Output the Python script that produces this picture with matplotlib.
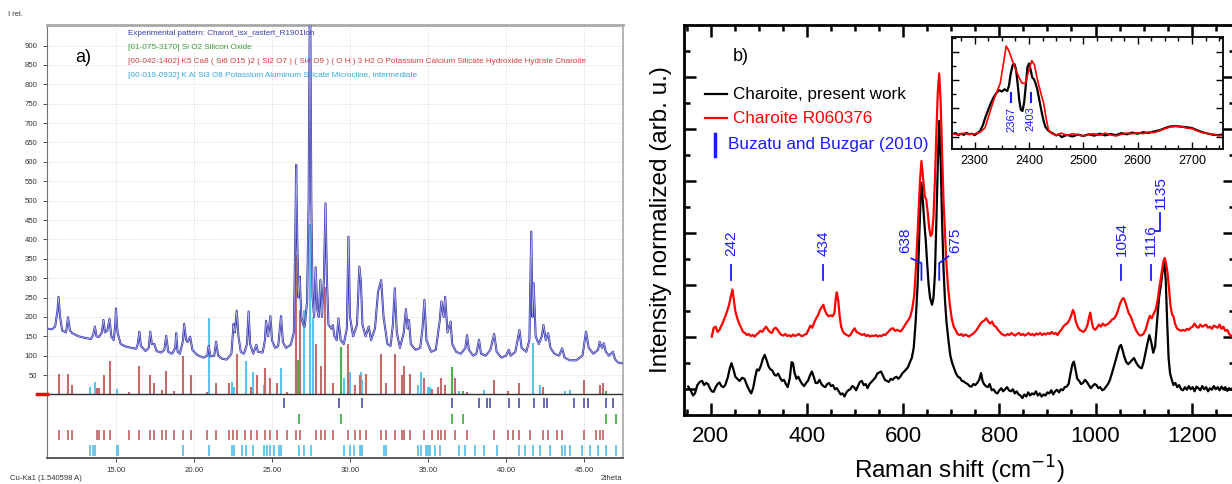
import matplotlib
matplotlib.use("Agg")
import matplotlib.pyplot as plt
import matplotlib.transforms as mtransforms
from matplotlib.ticker import MultipleLocator

plt.rcParams['font.family'] = ['Liberation Sans', 'DejaVu Sans']

# ---------------- a) XRD pattern ----------------
xrd_2theta = [10.5, 10.9, 11.1, 11.25, 11.32, 11.42, 11.55, 11.8, 11.93, 12.05, 12.2, 12.6, 13.0, 13.4,
              13.55, 13.65, 13.75, 13.9, 14.1, 14.2, 14.3, 14.45, 14.59, 14.7, 14.85, 14.95, 15.0, 15.1,
              15.3, 15.6, 16.0, 16.3, 16.4, 16.5, 16.6, 16.9, 17.1, 17.2, 17.3, 17.46, 17.6, 17.9, 18.1,
              18.22, 18.35, 18.6, 18.8, 18.86, 18.95, 19.1, 19.3, 19.37, 19.5, 19.6, 19.75, 19.9, 20.2,
              20.6, 20.85, 20.94, 21.05, 21.3, 21.42, 21.55, 21.8, 22.1, 22.4, 22.54, 22.62, 22.74, 22.85,
              23.0, 23.2, 23.4, 23.5, 23.6, 23.8, 24.0, 24.1, 24.4, 24.55, 24.62, 24.75, 24.9, 25.0, 25.2,
              25.4, 25.58, 25.7, 25.9, 26.2, 26.4, 26.5, 26.55, 26.62, 26.7, 26.78, 26.88, 27.0, 27.1,
              27.25, 27.35, 27.44, 27.52, 27.6, 27.7, 27.8, 27.9, 28.0, 28.1, 28.2, 28.33, 28.43, 28.52,
              28.62, 28.8, 28.9, 29.0, 29.15, 29.26, 29.4, 29.6, 29.8, 29.9, 30.0, 30.2, 30.45, 30.6, 30.7,
              30.8, 31.0, 31.2, 31.35, 31.6, 31.8, 32.0, 32.15, 32.4, 32.6, 32.75, 32.87, 33.0, 33.2, 33.45,
              33.58, 33.7, 33.78, 33.9, 34.2, 34.5, 34.65, 34.77, 34.9, 35.2, 35.5, 35.75, 35.86, 36.0,
              36.1, 36.25, 36.45, 36.55, 36.8, 37.1, 37.4, 37.5, 37.62, 37.9, 38.1, 38.27, 38.4, 38.7, 39.0,
              39.24, 39.4, 39.7, 40.0, 40.18, 40.3, 40.6, 40.86, 41.0, 41.3, 41.5, 41.62, 41.7, 41.77, 41.9,
              42.1, 42.3, 42.4, 42.55, 42.7, 42.85, 43.1, 43.4, 43.6, 43.75, 44.1, 44.5, 44.9, 45.13, 45.3,
              45.6, 45.9, 46.0, 46.15, 46.27, 46.4, 46.6, 46.85, 47.0, 47.2, 47.5]
xrd_counts = [170, 168, 175, 215, 252, 200, 165, 160, 199, 165, 158, 150, 146, 143,
              155, 175, 150, 148, 160, 192, 160, 165, 195, 150, 140, 175, 222, 160,
              130, 124, 120, 118, 130, 162, 125, 112, 120, 162, 130, 130, 112, 108, 115,
              151, 110, 105, 120, 158, 110, 105, 140, 182, 140, 135, 149, 115, 102,
              95, 100, 125, 98, 100, 136, 100, 92, 90, 105, 182, 160, 216, 150,
              110, 105, 130, 214, 130, 105, 128, 110, 108, 140, 190, 150, 202, 140, 120,
              125, 202, 135, 120, 128, 160, 420, 592, 400, 250, 304, 200, 180, 175,
              240, 500, 1100, 500, 250, 200, 328, 220, 200, 295, 200, 300, 493, 300,
              180, 170, 179, 150, 140, 196, 140, 130, 170, 407, 200, 150, 180, 330, 290,
              180, 150, 175, 140, 170, 265, 295, 200, 130, 125, 180, 274, 160, 120, 160,
              220, 170, 192, 130, 115, 120, 170, 244, 140, 110, 115, 190, 240, 200,
              252, 160, 188, 130, 110, 105, 120, 153, 115, 100, 105, 141, 105, 100, 115,
              156, 110, 95, 100, 115, 100, 110, 166, 120, 110, 140, 420, 200, 287, 150,
              130, 150, 179, 140, 158, 120, 105, 100, 119, 95, 88, 88, 100, 162, 120,
              105, 115, 136, 120, 132, 110, 100, 110, 90, 82, 80]

charoite_2theta = [11.32, 11.93, 12.21, 13.78, 13.91, 14.21, 14.59, 15.81, 16.50, 17.21, 17.46, 17.97,
                   18.22, 18.73, 19.31, 19.82, 20.81, 21.42, 22.23, 22.74, 23.68, 24.01, 24.57, 24.90,
                   25.33, 25.96, 26.55, 26.78, 27.79, 28.12, 28.43, 28.88, 29.90, 30.33, 30.61, 31.04,
                   31.98, 32.31, 32.87, 33.32, 33.45, 33.83, 34.77, 35.23, 35.61, 35.86, 36.12, 36.70,
                   37.51, 39.24, 40.10, 40.81, 42.39, 45.00, 46.02, 46.23]
charoite_int = [54, 54, 24, 16, 16, 49, 85, 5, 73, 49, 30, 11,
                61, 10, 98, 49, 5, 30, 30, 104, 18, 49, 67, 42,
                30, 5, 360, 218, 129, 73, 278, 30, 129, 24, 49, 54,
                104, 30, 104, 49, 73, 54, 42, 15, 20, 42, 25, 42,
                5, 36, 10, 30, 18, 36, 24, 30]
microcline_2theta = [13.35, 13.65, 15.05, 20.96, 22.41, 22.54, 23.35, 23.76, 24.52, 25.59, 26.73, 27.05,
                     27.44, 27.6, 29.59, 30.02, 30.71, 30.79, 32.31, 34.34, 34.52, 34.97, 35.10, 37.00,
                     38.58, 41.70, 42.21, 43.80, 44.11]
microcline_int = [20, 33, 13, 198, 33, 20, 85, 59, 24, 67, 59, 218,
                  440, 200, 42, 59, 59, 37, 29, 24, 59, 20, 20, 8,
                  12, 132, 24, 10, 12]
quartz_2theta = [26.64, 29.44, 36.57, 37.26, 46.4]
quartz_int = [90, 123, 72, 8, 8]

exp_row = [25.79, 29.31, 30.79, 36.57, 38.27, 38.78, 38.96, 40.18, 40.86, 41.77, 42.45, 42.65,
           44.34, 44.97, 45.23, 46.4, 46.85]
quartz_row = [26.73, 29.44, 36.57, 37.26, 46.4, 47.03]
charoite_row = charoite_2theta + [22.49, 23.25, 40.48, 41.55, 42.7, 43.3, 43.6, 45.75]
microcline_row = [13.35, 13.53, 13.65, 15.05, 15.13, 19.31, 20.96, 22.41, 22.54, 23.05, 23.35, 23.76,
                  24.52, 24.70, 24.90, 25.13, 25.46, 25.59, 26.73, 27.03, 27.49, 29.59, 30.02, 30.28,
                  30.61, 30.71, 30.79, 32.18, 32.31, 34.34, 34.52, 34.85, 34.97, 35.10, 35.48, 35.74,
                  37.00, 37.39, 38.02, 38.58, 39.42, 40.81, 41.19, 41.70, 42.21, 42.84, 43.60, 43.80,
                  44.11, 44.87, 45.38, 45.89, 46.40, 47.03]

xrd_xticks = [15, 20, 25, 30, 35, 40, 45]
xrd_yticks = list(range(50, 901, 50))
xrd_legend = ["Experimental pattern: Charoit_isx_rastert_R1901lon",
              "[01-075-3170] Si O2 Silicon Oxide",
              "[00-042-1402] K5 Ca8 ( Si6 O15 )2 ( Si2 O7 ) ( Si4 O9 ) ( O H ) 3 H2 O Potassium Calcium Silicate Hydroxide Hydrate Charoite",
              "[00-019-0932] K Al Si3 O8 Potassium Aluminum Silicate Microcline, intermediate"]

# ---------------- b) Raman spectra ----------------
black_shift = [153, 158, 163, 167, 172, 177, 182, 186, 190, 194, 198, 202, 206, 210, 214, 218, 222, 226, 230,
               235, 240, 243, 247, 251, 255, 260, 265, 270, 275, 280, 284, 288, 292, 296, 300, 304, 308, 312,
               316, 320, 324, 328, 332, 336, 340, 344, 348, 352, 356, 360, 364, 368, 371, 374, 378, 382, 386,
               390, 394, 398, 402, 406, 410, 414, 418, 422, 426, 430, 434, 438, 442, 446, 450, 454, 458, 462,
               466, 470, 474, 478, 482, 486, 490, 494, 498, 502, 506, 510, 514, 518, 522, 526, 530, 534, 538,
               542, 546, 550, 554, 558, 562, 566, 570, 574, 578, 582, 586, 590, 594, 598, 602, 606, 610, 614,
               618, 622, 626, 630, 633, 636, 638, 641, 644, 647, 650, 653, 656, 660, 663, 666, 669, 672, 675,
               678, 681, 684, 687, 690, 694, 698, 702, 706, 710, 714, 718, 722, 726, 730, 734, 738, 742, 746,
               750, 754, 758, 762, 765, 768, 772, 776, 780, 784, 788, 792, 796, 800, 804, 808, 812, 816, 820,
               824, 828, 832, 836, 840, 844, 848, 852, 856, 860, 864, 868, 872, 876, 880, 884, 888, 892, 896,
               900, 904, 908, 912, 916, 920, 924, 928, 932, 936, 940, 944, 948, 952, 955, 958, 962, 966, 970,
               974, 978, 982, 986, 990, 994, 998, 1002, 1006, 1010, 1014, 1018, 1022, 1026, 1030, 1034, 1038,
               1042, 1046, 1050, 1053, 1056, 1060, 1064, 1068, 1072, 1076, 1080, 1084, 1088, 1092, 1096, 1100,
               1104, 1108, 1112, 1116, 1120, 1124, 1128, 1132, 1136, 1140, 1143, 1146, 1149, 1152, 1155, 1158,
               1162, 1166, 1170, 1174, 1178, 1182, 1186, 1190, 1194, 1198, 1202, 1206, 1210, 1214, 1218, 1222,
               1226, 1230, 1234, 1238, 1242, 1246, 1250, 1254, 1258, 1262, 1266, 1270, 1274, 1278, 1282, 1286,
               1290]
black_int = [1.05, 0.98, 0.88, 0.92, 1.08, 1.14, 1.16, 1.08, 1.12, 1.10, 1.02, 0.96, 0.95, 1.04, 1.10, 1.13,
             1.06, 1.04, 1.08, 1.22, 1.42, 1.50, 1.38, 1.24, 1.20, 1.16, 1.22, 1.20, 1.08, 0.98, 0.92, 1.02,
             1.22, 1.38, 1.36, 1.45, 1.58, 1.66, 1.56, 1.44, 1.38, 1.36, 1.28, 1.26, 1.30, 1.22, 1.16, 1.18,
             1.10, 1.04, 1.20, 1.52, 1.50, 1.32, 1.20, 1.24, 1.16, 1.10, 1.06, 1.12, 1.16, 1.26, 1.34, 1.24,
             1.12, 1.12, 1.18, 1.10, 1.06, 1.04, 1.10, 1.12, 1.06, 1.08, 1.00, 1.02, 0.96, 0.90, 0.92, 0.86,
             0.94, 0.98, 1.00, 1.06, 1.04, 0.98, 1.06, 1.14, 1.16, 1.08, 1.10, 1.02, 1.10, 1.14, 1.18, 1.22,
             1.30, 1.32, 1.34, 1.26, 1.18, 1.16, 1.14, 1.20, 1.18, 1.22, 1.24, 1.20, 1.24, 1.30, 1.34, 1.38,
             1.42, 1.52, 1.60, 1.80, 2.30, 3.00, 3.80, 4.60, 4.96, 4.60, 4.20, 3.85, 3.40, 3.00, 2.75, 2.62,
             2.75, 3.20, 4.20, 5.30, 6.15, 5.40, 4.20, 3.30, 2.70, 2.30, 1.95, 1.65, 1.50, 1.40, 1.30, 1.24,
             1.22, 1.16, 1.15, 1.12, 1.10, 1.06, 1.05, 1.10, 1.08, 1.12, 1.18, 1.31, 1.16, 1.10, 1.06, 1.04,
             1.10, 0.98, 1.00, 0.94, 0.92, 0.98, 1.02, 0.96, 1.00, 1.04, 0.98, 0.96, 1.00, 0.92, 0.96, 0.90,
             0.88, 0.83, 0.90, 0.86, 0.94, 0.88, 0.92, 0.90, 0.96, 0.88, 0.92, 0.86, 0.90, 0.88, 0.94, 0.92,
             0.98, 0.90, 0.96, 0.99, 0.94, 1.00, 0.98, 1.04, 1.05, 1.10, 1.30, 1.48, 1.53, 1.40, 1.20, 1.16,
             1.10, 1.12, 1.18, 1.14, 1.08, 1.02, 1.06, 1.10, 1.08, 1.02, 1.04, 0.98, 1.00, 1.05, 1.10, 1.18,
             1.30, 1.43, 1.56, 1.70, 1.82, 1.85, 1.76, 1.62, 1.52, 1.48, 1.52, 1.56, 1.60, 1.52, 1.46, 1.42,
             1.40, 1.52, 1.70, 1.88, 2.04, 1.90, 1.70, 1.82, 2.30, 2.75, 3.00, 3.30, 3.45, 3.10, 2.30, 1.60,
             1.31, 1.20, 1.08, 1.12, 1.04, 1.08, 1.00, 0.98, 1.04, 0.99, 1.06, 1.00, 1.04, 0.96, 1.05, 1.02,
             0.98, 1.06, 1.00, 1.04, 0.96, 1.02, 0.99, 1.06, 1.00, 1.04, 0.98, 1.05, 1.00, 1.04, 0.97, 1.02,
             0.99, 1.03, 1.00]
red_shift = [202, 206, 210, 214, 218, 222, 226, 230, 234, 238, 242, 245, 248, 251, 255, 259, 263, 267, 271,
             275, 279, 283, 287, 291, 295, 299, 303, 307, 311, 315, 319, 323, 327, 331, 335, 339, 343, 347,
             351, 355, 359, 363, 367, 371, 375, 379, 383, 387, 391, 395, 399, 403, 407, 411, 415, 419, 423,
             427, 431, 434, 437, 441, 445, 449, 453, 457, 460, 462, 465, 468, 471, 475, 479, 483, 487, 491,
             495, 499, 503, 507, 511, 515, 519, 523, 527, 531, 535, 539, 543, 547, 551, 555, 559, 563, 567,
             571, 575, 579, 583, 587, 591, 595, 599, 603, 607, 611, 615, 619, 623, 627, 631, 635, 638, 641,
             645, 648, 651, 654, 657, 660, 663, 666, 669, 672, 675, 678, 681, 684, 687, 690, 693, 697, 701,
             705, 709, 713, 717, 721, 725, 729, 733, 737, 741, 745, 749, 753, 757, 761, 765, 769, 773, 777,
             781, 785, 789, 793, 797, 801, 805, 809, 813, 817, 821, 825, 829, 833, 837, 841, 845, 849, 853,
             857, 861, 865, 869, 873, 877, 881, 885, 889, 893, 897, 901, 905, 909, 913, 917, 921, 925, 929,
             933, 937, 941, 945, 949, 953, 956, 959, 963, 967, 971, 975, 979, 983, 987, 989, 992, 995, 999,
             1003, 1007, 1011, 1015, 1019, 1023, 1027, 1031, 1035, 1039, 1043, 1047, 1051, 1055, 1058, 1061,
             1065, 1069, 1073, 1077, 1081, 1085, 1089, 1093, 1097, 1101, 1105, 1109, 1113, 1117, 1121, 1125,
             1129, 1133, 1137, 1141, 1144, 1147, 1150, 1153, 1156, 1159, 1162, 1166, 1170, 1174, 1178, 1182,
             1186, 1190, 1194, 1198, 1202, 1206, 1210, 1214, 1218, 1222, 1226, 1230, 1234, 1238, 1242, 1246,
             1250, 1254, 1258, 1262, 1266, 1270, 1274, 1278, 1282, 1286, 1290]
red_int = [2.01, 2.18, 2.20, 2.10, 2.14, 2.22, 2.30, 2.40, 2.50, 2.62, 2.80, 2.91, 2.70, 2.50, 2.36, 2.26,
           2.18, 2.10, 2.08, 2.04, 2.06, 2.02, 2.04, 2.01, 2.05, 2.08, 2.12, 2.10, 2.16, 2.20, 2.14, 2.10,
           2.08, 2.16, 2.18, 2.14, 2.08, 2.04, 2.03, 2.06, 2.02, 2.04, 2.01, 2.05, 2.02, 2.04, 2.06, 2.03,
           2.02, 2.05, 2.06, 2.14, 2.22, 2.18, 2.28, 2.36, 2.42, 2.52, 2.58, 2.62, 2.52, 2.44, 2.40, 2.42,
           2.40, 2.46, 2.76, 2.86, 2.70, 2.40, 2.20, 2.10, 2.06, 2.04, 2.02, 2.05, 2.12, 2.17, 2.10, 2.08,
           2.06, 2.04, 2.06, 2.02, 2.04, 2.01, 2.03, 2.02, 2.04, 2.01, 2.03, 2.02, 2.05, 2.04, 2.08, 2.12,
           2.16, 2.17, 2.12, 2.14, 2.12, 2.11, 2.16, 2.22, 2.28, 2.33, 2.40, 2.55, 2.80, 3.40, 4.20, 5.00,
           5.38, 5.10, 4.70, 4.64, 4.40, 4.10, 3.94, 3.98, 4.30, 5.00, 5.90, 6.70, 7.06, 6.50, 5.50, 4.60,
           4.00, 3.40, 3.00, 2.62, 2.36, 2.20, 2.14, 2.06, 2.04, 2.06, 2.02, 2.05, 2.03, 2.01, 2.04, 2.06,
           2.10, 2.14, 2.20, 2.26, 2.30, 2.32, 2.36, 2.30, 2.26, 2.30, 2.22, 2.20, 2.14, 2.10, 2.06, 2.04,
           2.03, 2.06, 2.04, 2.08, 2.05, 2.03, 2.06, 2.08, 2.04, 2.06, 2.03, 2.05, 2.08, 2.04, 2.06, 2.03,
           2.07, 2.05, 2.08, 2.04, 2.07, 2.05, 2.08, 2.06, 2.10, 2.06, 2.08, 2.04, 2.10, 2.14, 2.20, 2.24,
           2.26, 2.32, 2.40, 2.52, 2.46, 2.30, 2.20, 2.14, 2.12, 2.10, 2.14, 2.22, 2.40, 2.47, 2.30, 2.18,
           2.14, 2.18, 2.24, 2.20, 2.26, 2.22, 2.24, 2.26, 2.30, 2.34, 2.36, 2.42, 2.52, 2.64, 2.72, 2.75,
           2.70, 2.58, 2.46, 2.40, 2.30, 2.20, 2.12, 2.06, 2.03, 2.04, 2.08, 2.16, 2.30, 2.41, 2.36, 2.45,
           2.52, 2.70, 2.96, 3.20, 3.45, 3.52, 3.40, 3.22, 2.90, 2.60, 2.44, 2.40, 2.24, 2.16, 2.14, 2.12,
           2.14, 2.12, 2.16, 2.14, 2.18, 2.20, 2.26, 2.20, 2.18, 2.24, 2.20, 2.22, 2.24, 2.18, 2.20, 2.16,
           2.22, 2.20, 2.18, 2.24, 2.16, 2.20, 2.12, 2.14, 2.06, 2.02, 2.04, 2.01]

# inset (2250-2760 cm-1)
ins_black_shift = [2258, 2265, 2270, 2275, 2280, 2285, 2290, 2295, 2300, 2305, 2310, 2315, 2320, 2325, 2330,
                   2335, 2340, 2345, 2350, 2355, 2360, 2363, 2366, 2370, 2373, 2376, 2379, 2382, 2385, 2388,
                   2391, 2394, 2397, 2400, 2403, 2406, 2409, 2412, 2415, 2418, 2421, 2424, 2427, 2430, 2435,
                   2440, 2445, 2450, 2455, 2460, 2470, 2480, 2490, 2500, 2510, 2520, 2530, 2540, 2550, 2560,
                   2570, 2580, 2590, 2600, 2610, 2620, 2630, 2640, 2650, 2660, 2670, 2680, 2690, 2700, 2710,
                   2720, 2730, 2740, 2750, 2757]
ins_black_int = [0.08, 0.12, 0.05, 0.10, 0.06, 0.13, 0.08, 0.10, 0.05, 0.12, 0.20, 0.40, 0.70, 0.95, 1.20,
                 1.40, 1.55, 1.65, 1.60, 1.68, 1.62, 1.80, 2.20, 2.55, 2.58, 2.40, 1.90, 1.30, 0.95, 0.91,
                 1.20, 1.80, 2.45, 2.60, 2.37, 2.10, 2.04, 1.90, 1.70, 1.40, 1.10, 0.80, 0.55, 0.35, 0.22,
                 0.15, 0.10, 0.04, 0.08, -0.02, 0.06, 0.00, 0.07, 0.02, 0.08, 0.03, 0.10, 0.04, 0.09, 0.05,
                 0.12, 0.08, 0.14, 0.10, 0.15, 0.13, 0.18, 0.22, 0.30, 0.36, 0.37, 0.35, 0.33, 0.30, 0.22,
                 0.15, 0.10, 0.06, 0.05, 0.08]
ins_red_shift = [2258, 2270, 2280, 2290, 2300, 2310, 2319, 2327, 2335, 2342, 2347, 2353, 2358, 2363, 2369,
                 2375, 2381, 2387, 2393, 2399, 2405, 2410, 2415, 2421, 2427, 2432, 2436, 2442, 2450, 2460,
                 2470, 2480, 2490, 2500, 2510, 2520, 2530, 2540, 2550, 2560, 2570, 2580, 2590, 2600, 2610,
                 2620, 2630, 2640, 2650, 2660, 2670, 2680, 2690, 2700, 2710, 2720, 2730, 2740, 2750, 2757]
ins_red_int = [0.10, 0.06, 0.12, 0.08, 0.10, 0.15, 0.31, 0.80, 1.30, 1.65, 1.89, 2.60, 3.22, 3.05, 2.72,
               2.40, 2.13, 1.90, 1.89, 2.30, 2.70, 2.55, 2.07, 1.60, 1.18, 0.60, 0.23, 0.10, 0.05, 0.12,
               0.04, 0.10, 0.06, 0.02, 0.08, 0.10, 0.04, 0.12, 0.06, 0.02, 0.08, 0.12, 0.10, 0.14, 0.10,
               0.16, 0.14, 0.20, 0.28, 0.34, 0.37, 0.36, 0.30, 0.28, 0.20, 0.14, 0.10, 0.08, 0.02, 0.06]

raman_marks = [242, 434, 1054, 1116]
inset_marks = [2367, 2403]

# ---------------------------------------------------------------
fig = plt.figure(figsize=(12.32, 4.84), dpi=100)

# ---- panel a
axa = fig.add_axes([0.0379, 0.0537, 0.4678, 0.8946])
axa.set_xlim(10.56, 47.5)
axa.set_ylim(-164, 953)
axa.set_xticks(xrd_xticks)
axa.set_xticklabels(['%.2f' % v for v in xrd_xticks])
axa.set_yticks(xrd_yticks)
axa.tick_params(axis='both', labelsize=5.6, colors='#333333', length=3, width=0.6, direction='out')
axa.grid(True, color='#d8d8d8', linestyle=':', linewidth=0.7)
axa.set_axisbelow(True)
for s in ['top', 'right']:
    axa.spines[s].set_color('#a8a8a8')
axa.spines['top'].set_linewidth(2.0)
axa.spines['right'].set_linewidth(1.2)
axa.spines['left'].set_color('#707070')
axa.spines['bottom'].set_color('#404040')
axa.spines['bottom'].set_linewidth(1.2)

axa.vlines(microcline_2theta, 0, microcline_int, color='#5ec3ea', lw=1.5, zorder=2)
axa.vlines(charoite_2theta, 0, charoite_int, color='#c46c6c', lw=1.5, zorder=2)
axa.vlines(quartz_2theta, 0, quartz_int, color='#4caf4c', lw=1.5, zorder=2)
axa.axhline(0, color='#303030', lw=1.0, zorder=3)
axa.plot(xrd_2theta, xrd_counts, color='#3434b0', lw=1.5, zorder=4)
axa.plot(xrd_2theta, xrd_counts, color='#b8b8e8', lw=0.5, zorder=5)

axa.vlines(exp_row, -9, -35, color='#5a5aa8', lw=1.3)
axa.vlines(quartz_row, -50, -76, color='#4caf4c', lw=1.3)
axa.vlines(charoite_row, -91, -117, color='#c46c6c', lw=1.3)
axa.vlines(microcline_row, -130, -159, color='#5ec3ea', lw=1.3)

trans = mtransforms.blended_transform_factory(axa.transAxes, axa.transData)
axa.plot([-0.016, 0], [0, 0], transform=trans, color='red', lw=2.5, clip_on=False, zorder=6)

leg_colors = ['#3c3cb4', '#3a9d3a', '#d84040', '#38a8d8']
for i, (t, c) in enumerate(zip(xrd_legend, leg_colors)):
    fig.text(128.5 / 1232, 1 - (33.5 + 14 * i) / 484, t, color=c, fontsize=5.9, va='center', ha='left')
fig.text(83 / 1232, 1 - 58 / 484, 'a)', fontsize=13, ha='center', va='center')
fig.text(8 / 1232, 1 - 15 / 484, 'I rel.', fontsize=5.5, color='#333333', va='center')
fig.text(10 / 1232, 1 - 479 / 484, 'Cu-Ka1 (1.540598 A)', fontsize=5.5, color='#333333', va='center')
fig.text(601 / 1232, 1 - 479 / 484, '2theta', fontsize=5.5, color='#333333', va='center')

# ---- panel b
axb = fig.add_axes([0.5555, 0.1426, 0.4469, 0.8058])
axb.set_xlim(145, 1290)
axb.set_ylim(0.506, 7.99)
axb.plot(black_shift, black_int, color='black', lw=1.6)
axb.plot(red_shift, red_int, color='red', lw=1.6)
axb.xaxis.set_major_locator(MultipleLocator(200))
axb.xaxis.set_minor_locator(MultipleLocator(50))
axb.yaxis.set_major_locator(MultipleLocator(1))
axb.yaxis.set_minor_locator(MultipleLocator(0.5))
axb.tick_params(which='both', direction='in', top=True, right=True, width=1.8)
axb.tick_params(which='major', length=8.5, labelsize=16, pad=8)
axb.tick_params(which='minor', length=4.5)
axb.set_yticklabels([])
for s in axb.spines.values():
    s.set_linewidth(2.0)
axb.set_xlabel('Raman shift (cm$^{-1}$)', fontsize=17.5, labelpad=5)
axb.set_ylabel('Intensity normalized (arb. u.)', fontsize=17.5, labelpad=1)

blue = '#1a1aff'
for m in raman_marks:
    axb.plot([m, m], [3.10, 3.39], color=blue, lw=1.3)
    axb.text(m, 3.55, str(m), rotation=90, ha='center', va='bottom', color=blue, fontsize=11)
axb.plot([617, 638, 638], [3.51, 3.42, 3.10], color=blue, lw=1.3)
axb.text(604, 3.62, '638', rotation=90, ha='center', va='bottom', color=blue, fontsize=11)
axb.plot([694, 675, 675], [3.55, 3.42, 3.10], color=blue, lw=1.3)
axb.text(708, 3.62, '675', rotation=90, ha='center', va='bottom', color=blue, fontsize=11)
axb.plot([1124, 1135, 1135], [4.03, 4.03, 4.39], color=blue, lw=1.3)
axb.text(1136, 4.45, '1135', rotation=90, ha='center', va='bottom', color=blue, fontsize=11)

# legend
axb.plot([0.0375, 0.0768], [0.8223, 0.8223], transform=axb.transAxes, color='black', lw=1.6)
axb.text(0.0883, 0.8223, 'Charoite, present work', transform=axb.transAxes, fontsize=12.3, va='center')
axb.plot([0.0375, 0.0768], [0.7608, 0.7608], transform=axb.transAxes, color='red', lw=1.6)
axb.text(0.0883, 0.7608, 'Charoite R060376', transform=axb.transAxes, fontsize=12.3, va='center', color='red')
axb.plot([0.0556, 0.0556], [0.6641, 0.7205], transform=axb.transAxes, color=blue, lw=2.5)
axb.text(0.0797, 0.6923, 'Buzatu and Buzgar (2010)', transform=axb.transAxes, fontsize=12.3,
         va='center', color=blue)
axb.text(0.1028, 0.9192, 'b)', transform=axb.transAxes, fontsize=13, ha='center', va='center')

# ---- inset
axi = fig.add_axes([0.7726, 0.6915, 0.2201, 0.2314])
axi.set_xlim(2258, 2757)
axi.set_ylim(-0.455, 3.53)
axi.plot(ins_black_shift, ins_black_int, color='black', lw=1.6)
axi.plot(ins_red_shift, ins_red_int, color='red', lw=1.2)
axi.xaxis.set_major_locator(MultipleLocator(100))
axi.xaxis.set_minor_locator(MultipleLocator(25))
axi.yaxis.set_major_locator(MultipleLocator(1))
axi.yaxis.set_minor_locator(MultipleLocator(0.5))
axi.tick_params(which='both', direction='in', top=True, right=True, width=1.0)
axi.tick_params(which='major', length=5, labelsize=9, pad=4)
axi.tick_params(which='minor', length=3)
axi.set_yticklabels([])
for s in axi.spines.values():
    s.set_linewidth(1.3)
for m in inset_marks:
    axi.plot([m, m], [1.24, 1.54], color=blue, lw=1.5)
    axi.text(m, 1.06, str(m), rotation=90, ha='center', va='top', color=blue, fontsize=8)

fig.savefig('out.png', dpi=100)
